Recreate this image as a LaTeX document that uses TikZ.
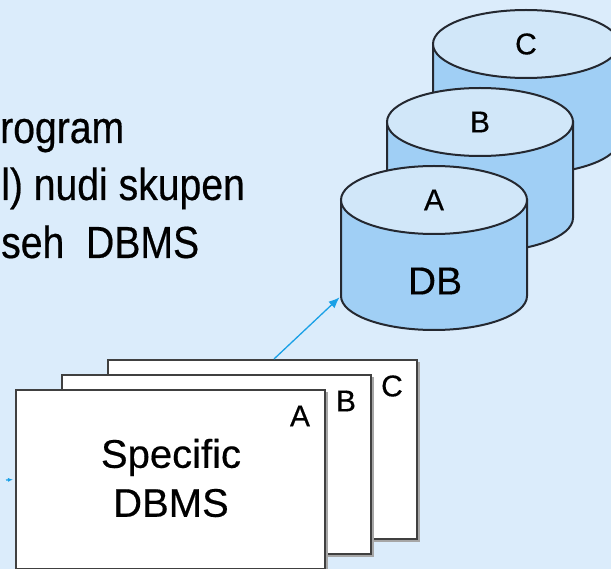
\documentclass[tikz,border=0pt]{standalone}
\usepackage{fontspec}
\setmainfont{Liberation Sans}[FakeBold=0.4]
\newfontfamily\narrowfont[FakeStretch=0.87,FakeBold=0.4]{Liberation Sans}
\usetikzlibrary{arrows.meta, positioning, shadows}
\definecolor{bgblue}{RGB}{219,236,251}
\definecolor{dbtopblue}{RGB}{209,231,249}
\definecolor{dbsideblue}{RGB}{160,207,245}
\definecolor{dbline}{RGB}{36,40,48}
\definecolor{linkblue}{RGB}{25,160,230}

\begin{document}
\begin{tikzpicture}[x=1pt,y=-1pt]
    \tikzstyle{dbside}=[fill=dbsideblue, draw=dbline, line width=2pt]
    \tikzstyle{dbtop}=[fill=dbtopblue, draw=dbline, line width=2pt]
    \tikzstyle{dblabel}=[inner sep=0pt, font=\fontsize{30}{30}\selectfont]
    \tikzstyle{page}=[draw=black!75, fill=white, line width=2pt, minimum width=309pt, minimum height=179pt, inner sep=0pt,
        drop shadow={shadow xshift=2.5pt, shadow yshift=-2.5pt, fill=black!35, opacity=1}]
    \tikzstyle{pagelabel}=[inner sep=0pt, font=\fontsize{30}{30}\selectfont]
    \tikzstyle{intro}=[anchor=base west, inner sep=0pt, font=\narrowfont\fontsize{45}{45}\selectfont]
    \tikzstyle{link}=[->, >={Latex[length=11pt,width=9pt]}, draw=linkblue, line width=1.3pt]

    \fill[bgblue] (0,0) rectangle (611,569);
    \useasboundingbox (0,0) rectangle (611,569);

    % text cut at the left edge
    \node[intro] (t1) at (0,143) {rogram};
    \node[intro] (t2) at (1,200) {l) nudi skupen};
    \node[intro] (t3) at (1,258) {seh\ \ DBMS};

    % databases, back to front
    \foreach \i/\lbl in {2/C,1/B,0/A}{
        \pgfmathsetmacro\cx{434+46*\i}
        \pgfmathsetmacro\cy{200-78*\i}
        \draw[dbside] (\cx-93,\cy) -- (\cx-93,\cy+96) arc[start angle=180,end angle=0,x radius=93,y radius=34] -- (\cx+93,\cy) -- cycle;
        \draw[dbtop] (\cx,\cy) ellipse[x radius=93,y radius=34];
        \node[dblabel] (top-\lbl) at (\cx,\cy) {\lbl};
        }
    \node[inner sep=0pt, font=\fontsize{39}{39}\selectfont] (db) at (435,281) {DB};
    \coordinate (dbA-sw) at (341,296);

    % DBMS pages, back to front
    \foreach \i/\lbl in {2/C,1/B,0/A}{
        \pgfmathsetmacro\px{170.5+46*\i}
        \pgfmathsetmacro\py{479.5-15*\i}
        \node[page] (P-\lbl) at (\px,\py) {};
        \node[pagelabel] (L-\lbl) at ([shift={(-26,27)}]P-\lbl.north east) {\lbl};
        }
    \node[align=center, inner sep=0pt, font=\fontsize{40}{49}\selectfont] (dbms) at (171,478) {Specific\\DBMS};

    \coordinate (tail) at (274,359);
    \coordinate (stub) at (6,480);
    \draw[link, shorten >=2pt] (tail) -- (dbA-sw);
    \draw[link, >={Latex[length=5pt,width=4pt]}, shorten >=2pt] (stub) -- (P-A.west);
\end{tikzpicture}
\end{document}
